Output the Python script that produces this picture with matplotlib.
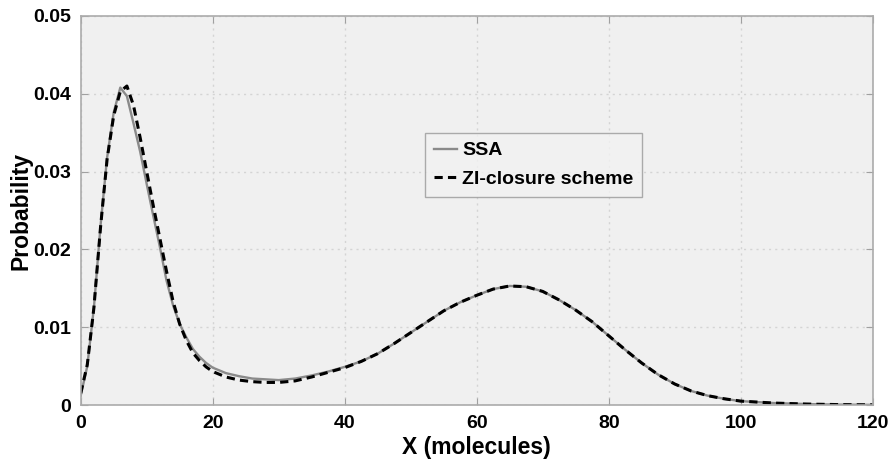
import matplotlib

matplotlib.use('Agg')

import matplotlib.pyplot as plt

plt.rcParams['font.family'] = ['Liberation Sans', 'DejaVu Sans']
plt.rcParams['font.weight'] = 'bold'

# molecule counts and probabilities
x_ssa = [0, 1, 2, 3, 4, 5, 6, 7, 8, 9, 10, 11, 12, 13, 14, 15, 16, 17, 18,
         19, 20, 22, 24, 26, 28, 30, 32.5, 35, 37.5, 40, 42.5, 45, 47.5, 50,
         52.5, 55, 57.5, 60, 62.5, 65, 67.5, 70, 72.5, 75, 77.5, 80, 82.5,
         85, 87.5, 90, 92.5, 95, 97.5, 100, 105, 110, 115, 120]
p_ssa = [0.0012, 0.0050, 0.0125, 0.0230, 0.0318, 0.0376, 0.0408, 0.0397,
         0.0362, 0.0326, 0.0284, 0.0243, 0.0203, 0.0160, 0.0128, 0.0104,
         0.0087, 0.0072, 0.0062, 0.0054, 0.0048, 0.0041, 0.0037, 0.0034,
         0.0033, 0.0032, 0.0034, 0.0038, 0.0043, 0.0049, 0.0056, 0.0066,
         0.0079, 0.0093, 0.0107, 0.0121, 0.0132, 0.0141, 0.0149, 0.0153,
         0.0152, 0.0146, 0.0135, 0.0122, 0.0107, 0.0089, 0.0071, 0.0054,
         0.0039, 0.0027, 0.0018, 0.0012, 0.0008, 0.0005, 0.00025, 0.00012,
         0.00005, 0.00002]

x_zi = [0, 1, 2, 3, 4, 5, 6, 7, 8, 9, 10, 11, 12, 13, 14, 15, 16, 17, 18,
        19, 20, 22, 24, 26, 28, 30, 32.5, 35, 37.5, 40, 42.5, 45, 47.5, 50,
        52.5, 55, 57.5, 60, 62.5, 65, 67.5, 70, 72.5, 75, 77.5, 80, 82.5,
        85, 87.5, 90, 92.5, 95, 97.5, 100, 105, 110, 115, 120]
p_zi = [0.0015, 0.0052, 0.0125, 0.0228, 0.0316, 0.0372, 0.0403, 0.0410,
        0.0385, 0.0344, 0.0300, 0.0256, 0.0214, 0.0172, 0.0133, 0.0104,
        0.0083, 0.0067, 0.0057, 0.0049, 0.0043, 0.0036, 0.0032, 0.0030,
        0.0029, 0.0029, 0.0031, 0.0036, 0.0042, 0.0048, 0.0056, 0.0066,
        0.0079, 0.0093, 0.0107, 0.0121, 0.0132, 0.0141, 0.0149, 0.0153,
        0.0152, 0.0146, 0.0135, 0.0122, 0.0107, 0.0089, 0.0071, 0.0054,
        0.0039, 0.0027, 0.0018, 0.0012, 0.0008, 0.0005, 0.00025, 0.00012,
        0.00005, 0.00002]

x_ticks = [0, 20, 40, 60, 80, 100, 120]
y_ticks = [0, 0.01, 0.02, 0.03, 0.04, 0.05]
y_ticklabels = ['0', '0.01', '0.02', '0.03', '0.04', '0.05']

fig = plt.figure(figsize=(8.92, 4.67), dpi=100)
ax = fig.add_axes([80.7 / 892, 62 / 467, 792 / 892, 389 / 467])
ax.set_facecolor('#f0f0f0')

ax.plot(x_ssa, p_ssa, color='#8a8a8a', linewidth=1.7, label='SSA')
ax.plot(x_zi, p_zi, color='black', linewidth=2.2,
        linestyle=(0, (2.7, 1.7)), label='ZI-closure scheme')

ax.set_xlim(0, 120)
ax.set_ylim(0, 0.05)
ax.set_xticks(x_ticks)
ax.set_yticks(y_ticks)
ax.set_yticklabels(y_ticklabels)
ax.tick_params(direction='in', length=5, color='#a0a0a0', labelsize=14,
               top=True, right=True, pad=7)
for lbl in ax.get_xticklabels() + ax.get_yticklabels():
    lbl.set_fontweight('bold')
for sp in ax.spines.values():
    sp.set_color('#ababab')
    sp.set_linewidth(1.2)
ax.grid(True, linestyle=(0, (1.5, 3)), color='#d4d4d4', linewidth=1.0)
ax.set_axisbelow(True)

ax.set_xlabel('X (molecules)', fontsize=16.5, fontweight='bold', labelpad=3)
ax.set_ylabel('Probability', fontsize=16.5, fontweight='bold', labelpad=0.5)

leg = ax.legend(loc='upper left', bbox_to_anchor=(0.435, 0.699),
                frameon=True, fancybox=False, handlelength=1.2,
                handletextpad=0.25, borderpad=0.45, labelspacing=0.55,
                borderaxespad=0, prop={'weight': 'bold', 'size': 14})
leg.get_frame().set_facecolor('#f2f2f2')
leg.get_frame().set_edgecolor('#999999')
leg.get_frame().set_linewidth(1.0)

fig.savefig('out.png', dpi=100)
